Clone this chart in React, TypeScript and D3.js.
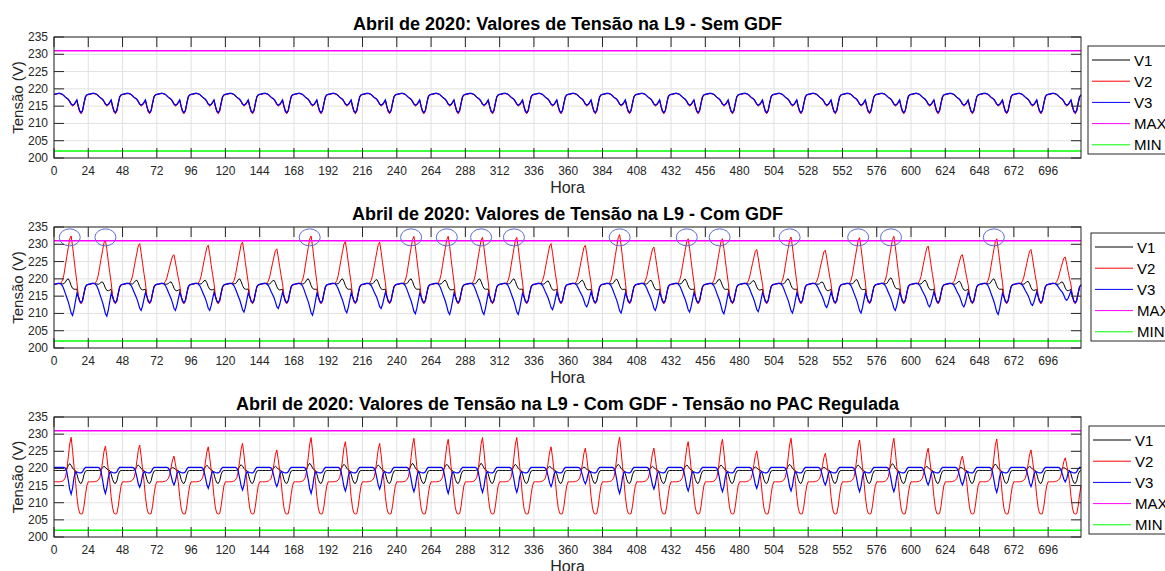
import React from "react";
import * as d3 from "d3";

// ---- data (April 2020, hourly, 30 days) ----
const DAYS = 30;
const xTickValues = d3.range(0, 720, 24);
const yTickValues = [200, 205, 210, 215, 220, 225, 230, 235];
const legendLabels = ["V1", "V2", "V3", "MAX", "MIN"];
const seriesColors = ["#000000", "#ff0000", "#0000ff", "#ff00ff", "#00ff00"];
const MAX_V = 231;
const MIN_V = 202;

// typical day without GDF (hour 0..23)
const base1V1 = [218.4, 218.5, 218.6, 218.7, 218.7, 218.6, 218.4, 218.0, 217.6, 217.3, 217.0, 216.4, 215.6, 215.3, 215.5, 216.1, 216.8, 215.0, 213.6, 213.1, 213.8, 215.9, 217.7, 218.3];
const base1V2 = [218.3, 218.4, 218.5, 218.6, 218.6, 218.5, 218.3, 217.9, 217.5, 217.2, 216.8, 216.2, 215.4, 215.0, 215.3, 215.9, 216.6, 214.7, 213.2, 212.8, 213.5, 215.6, 217.5, 218.2];

// solar hump shapes, panel 2 (share of the daily extreme)
const hump2V1 = [0, 0, 0, 0, 0, 0, 0.05, 0.2, 0.5, 0.82, 1.0, 0.95, 0.82, 0.65, 0.5, 0.3, 0.08, 0, 0, 0, 0, 0, 0, 0];
const hump2V2 = [0, 0, 0, 0, 0, 0.02, 0.08, 0.2, 0.38, 0.55, 0.72, 0.9, 1.0, 0.85, 0.62, 0.38, 0.15, 0.03, 0, 0, 0, 0, 0, 0];
const hump2V3 = [0, 0, 0, 0, 0, 0.02, 0.08, 0.18, 0.32, 0.47, 0.62, 0.78, 0.93, 1.0, 0.75, 0.45, 0.18, 0.03, 0, 0, 0, 0, 0, 0];

// daily extremes, panel 2
const peak2V1 = [220.0, 219.1, 219.6, 219.1, 219.6, 220.0, 219.6, 220.0, 220.0, 219.8, 220.0, 219.6, 220.0, 220.0, 219.4, 219.6, 219.9, 219.6, 219.9, 219.9, 219.5, 220.0, 219.1, 219.8, 220.3, 219.6, 219.3, 220.0, 219.3, 219.1];
const peak2V2 = [232.4, 231.2, 230.2, 227.0, 229.7, 230.6, 228.7, 232.4, 230.8, 230.6, 232.3, 232.3, 232.0, 232.0, 230.2, 229.7, 232.8, 229.2, 231.6, 231.6, 228.5, 232.1, 228.3, 231.9, 232.3, 229.5, 227.0, 231.6, 228.5, 226.3];
const min2V3 = [209.4, 209.2, 210.9, 210.9, 210.9, 210.4, 211.4, 209.5, 210.2, 211.4, 209.9, 209.7, 209.7, 209.7, 211.1, 211.9, 210.1, 210.9, 210.4, 209.9, 210.5, 210.1, 211.7, 210.1, 210.9, 211.9, 211.9, 209.7, 212.3, 213.8];
const circledHours = [11, 36, 179, 250, 275, 299, 322, 396, 443, 466, 515, 563, 586, 658];

// typical day with regulated PAC voltage, panel 3
const base3V1 = [219.4, 219.4, 219.4, 219.4, 219.4, 219.4, 219.4, 219.4, 219.4, 219.4, 219.4, 219.4, 219.4, 219.4, 219.4, 219.4, 218.4, 216.8, 215.8, 215.6, 216.4, 218.2, 219.2, 219.4];
const base3V2 = [216.1, 216.1, 216.1, 216.1, 216.1, 216.2, 216.3, 216.4, 216.4, 216.3, 216.2, 216.1, 216.1, 216.1, 216.1, 215.5, 211.8, 208.5, 206.9, 206.7, 206.8, 209.0, 212.3, 215.0];
const base3V3 = [220.3, 220.3, 220.3, 220.3, 220.3, 220.3, 220.3, 220.3, 220.3, 220.3, 220.3, 220.3, 220.3, 220.3, 220.3, 219.6, 219.0, 218.8, 218.7, 218.7, 219.0, 219.8, 220.3, 220.3];
const hump3V1 = [0, 0, 0, 0, 0, 0, 0, 0, 0.05, 0.3, 0.7, 1.0, 0.75, 0.35, 0.1, 0, 0, 0, 0, 0, 0, 0, 0, 0];
const hump3V2 = [0, 0, 0, 0, 0, 0, 0, 0.02, 0.08, 0.25, 0.55, 0.85, 1.0, 0.7, 0.35, 0.08, 0, 0, 0, 0, 0, 0, 0, 0];
const hump3V3 = [0, 0, 0, 0, 0, 0, 0, 0, 0.03, 0.18, 0.48, 0.82, 1.0, 0.78, 0.38, 0.1, 0, 0, 0, 0, 0, 0, 0, 0];
const peak3V1 = [221.4, 220.6, 221.0, 220.3, 220.9, 221.1, 220.6, 221.5, 221.2, 221.0, 221.5, 221.2, 221.5, 221.2, 220.6, 220.4, 221.2, 220.6, 221.0, 221.0, 220.4, 221.2, 220.3, 221.0, 221.4, 220.6, 220.3, 221.3, 220.6, 220.2];
const peak3V2 = [229.1, 226.5, 226.8, 223.6, 226.3, 227.3, 225.4, 229.0, 227.8, 227.3, 228.8, 228.5, 229.0, 229.0, 226.3, 225.9, 229.1, 225.9, 227.8, 228.5, 225.1, 228.8, 224.4, 228.3, 228.8, 225.9, 223.6, 228.6, 225.4, 223.1];
const min3V3 = [212.5, 212.7, 214.5, 215.2, 214.2, 213.7, 214.7, 212.7, 213.4, 214.0, 213.2, 212.7, 213.0, 213.0, 214.7, 215.5, 212.7, 214.0, 213.4, 213.2, 214.2, 213.4, 215.2, 213.2, 213.2, 215.2, 215.2, 213.0, 214.7, 216.1];

// hourly series: typical day plus the day's hump scaled to the read extreme
const hourly = (base: number[], shape?: number[], extremes?: number[], refHour = 12) =>
  d3.range(DAYS * 24).map(i => {
    const d = Math.floor(i / 24), h = i % 24;
    if (!shape || !extremes) return base[h];
    return base[h] + (extremes[d] - base[refHour]) * shape[h];
  });

const panels = [
  {
    title: "Abril de 2020: Valores de Tensão na L9 - Sem GDF",
    top: 37, bottom: 158, legendX: 1088, legendY: 46,
    series: [hourly(base1V1), hourly(base1V2), hourly(base1V1)],
    circles: [] as number[],
  },
  {
    title: "Abril de 2020: Valores de Tensão na L9 - Com GDF",
    top: 227, bottom: 348, legendX: 1091, legendY: 233,
    series: [
      hourly(base1V1, hump2V1, peak2V1, 10),
      hourly(base1V2, hump2V2, peak2V2, 12),
      hourly(base1V1, hump2V3, min2V3, 13),
    ],
    circles: circledHours,
  },
  {
    title: "Abril de 2020: Valores de Tensão na L9 - Com GDF - Tensão no PAC Regulada",
    top: 417, bottom: 537, legendX: 1089, legendY: 426,
    series: [
      hourly(base3V1, hump3V1, peak3V1, 11),
      hourly(base3V2, hump3V2, peak3V2, 12),
      hourly(base3V3, hump3V3, min3V3, 12),
    ],
    circles: [] as number[],
  },
];

const FONT = "'Liberation Sans', Arial, Helvetica, sans-serif";
const AXIS = "#262626";
const GRID = "#e2e2e2";
const X0 = 54;
const X1 = 1081;

const Panel = ({p}: {p: typeof panels[number]}) => {
  const x = d3.scaleLinear().domain([0, 719]).range([X0, X1]);
  const y = d3.scaleLinear().domain([200, 235]).range([p.bottom, p.top]);
  const line = d3.line<number>().x((_, i) => x(i)).y(v => y(v));
  const tickLen = 10;
  return (
    <g>
      {/* grid */}
      {xTickValues.map(t => (
        <line key={"gx" + t} x1={x(t)} x2={x(t)} y1={p.top} y2={p.bottom} stroke={GRID} strokeWidth={1}/>
      ))}
      {yTickValues.map(t => (
        <line key={"gy" + t} x1={X0} x2={X1} y1={y(t)} y2={y(t)} stroke={GRID} strokeWidth={1}/>
      ))}
      {/* data */}
      {p.series.map((s, i) => (
        <path key={i} d={line(s) || ""} fill="none" stroke={seriesColors[i]} strokeWidth={i === 2 ? 1.2 : 1}/>
      ))}
      <line x1={X0} x2={X1} y1={y(MAX_V)} y2={y(MAX_V)} stroke={seriesColors[3]} strokeWidth={1.5}/>
      <line x1={X0} x2={X1} y1={y(MIN_V)} y2={y(MIN_V)} stroke={seriesColors[4]} strokeWidth={1.5}/>
      {p.circles.map(h => (
        <ellipse key={"c" + h} cx={x(h)} cy={y(232)} rx={10.5} ry={8.5} fill="none" stroke="#5a6bd6" strokeWidth={1}/>
      ))}
      {/* box and ticks */}
      <rect x={X0} y={p.top} width={X1 - X0} height={p.bottom - p.top} fill="none" stroke={AXIS} strokeWidth={1}/>
      {xTickValues.map(t => (
        <g key={"tx" + t}>
          <line x1={x(t)} x2={x(t)} y1={p.bottom} y2={p.bottom - tickLen} stroke={AXIS}/>
          <line x1={x(t)} x2={x(t)} y1={p.top} y2={p.top + tickLen} stroke={AXIS}/>
          <text x={x(t)} y={p.bottom + 17} textAnchor="middle" fontSize={12} fill={AXIS} fontFamily={FONT}>{t}</text>
        </g>
      ))}
      {yTickValues.map(t => (
        <g key={"ty" + t}>
          <line x1={X0} x2={X0 + tickLen} y1={y(t)} y2={y(t)} stroke={AXIS}/>
          <line x1={X1} x2={X1 - tickLen} y1={y(t)} y2={y(t)} stroke={AXIS}/>
          <text x={X0 - 6} y={y(t) + 4} textAnchor="end" fontSize={12} fill={AXIS} fontFamily={FONT}>{t}</text>
        </g>
      ))}
      <text x={(X0 + X1) / 2} y={p.top - 7.5} textAnchor="middle" fontSize={18} fontWeight="bold" fill="#000" fontFamily={FONT}>{p.title}</text>
      <text x={(X0 + X1) / 2} y={p.bottom + 35} textAnchor="middle" fontSize={16} fill={AXIS} fontFamily={FONT}>Hora</text>
      <text transform={`translate(${23},${(p.top + p.bottom) / 2}) rotate(-90)`} textAnchor="middle" fontSize={15} fill={AXIS} fontFamily={FONT}>Tensão (V)</text>
      {/* legend */}
      <rect x={p.legendX} y={p.legendY} width={120} height={108} fill="#fff" stroke={AXIS} strokeWidth={1}/>
      {legendLabels.map((lab, i) => {
        const ly = p.legendY + 14 + i * 21.2;
        return (
          <g key={lab}>
            <line x1={p.legendX + 4} x2={p.legendX + 42} y1={ly} y2={ly} stroke={seriesColors[i]} strokeWidth={1}/>
            <text x={p.legendX + 46} y={ly + 5.5} fontSize={15} fill="#000" fontFamily={FONT}>{lab}</text>
          </g>
        );
      })}
    </g>
  );
};

const App = () => (
  <svg width={1165} height={571} style={{position: "absolute", left: 0, top: 0, background: "#fff"}}>
    <rect width={1165} height={571} fill="#fff"/>
    {panels.map((p, i) => <Panel key={i} p={p}/>)}
  </svg>
);

export default App;
